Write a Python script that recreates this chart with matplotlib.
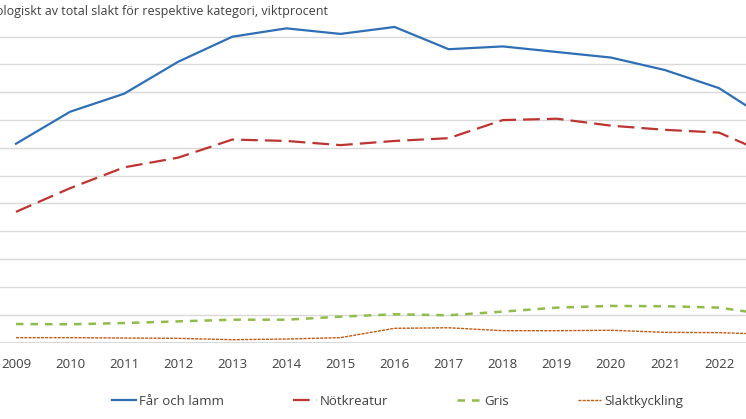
import matplotlib
matplotlib.use("Agg")
import matplotlib.pyplot as plt
from matplotlib.lines import Line2D

years = [2009, 2010, 2011, 2012, 2013, 2014, 2015, 2016, 2017, 2018, 2019, 2020, 2021, 2022, 2023]
far_och_lamm = [14.3, 16.6, 17.9, 20.2, 22.0, 22.6, 22.2, 22.7, 21.1, 21.3, 20.9, 20.5, 19.6, 18.3, 15.8]
notkreatur = [9.4, 11.1, 12.6, 13.3, 14.6, 14.5, 14.2, 14.5, 14.7, 16.0, 16.1, 15.6, 15.3, 15.1, 13.4]
gris = [1.33, 1.31, 1.40, 1.52, 1.64, 1.64, 1.86, 2.03, 1.96, 2.22, 2.51, 2.63, 2.61, 2.51, 1.95]
slaktkyckling = [0.35, 0.35, 0.32, 0.30, 0.20, 0.25, 0.35, 1.02, 1.06, 0.85, 0.85, 0.88, 0.73, 0.71, 0.58]
series_names = ["Får och lamm", "Nötkreatur", "Gris", "Slaktkyckling"]
title = "Andel ekologiskt av total slakt för respektive kategori, viktprocent"
yticks = [0, 2, 4, 6, 8, 10, 12, 14, 16, 18, 20, 22]

plt.rcParams['font.family'] = ['Open Sans', 'DejaVu Sans']

W, H = 746, 419
fig = plt.figure(figsize=(W / 100, H / 100), dpi=100)

bottom_px = 342.5
top_px = 8.9
ax = fig.add_axes([0, (H - bottom_px) / H, 1, (bottom_px - top_px) / H])
px_per_year = 54.08
x0 = 2009 - 16 / px_per_year
ax.set_xlim(x0, x0 + W / px_per_year)
ax.set_ylim(0, 24)

for s in ax.spines.values():
    s.set_visible(False)
ax.set_yticks(yticks)
ax.yaxis.grid(True, color='#D9D9D9', linewidth=1.0)
ax.set_axisbelow(True)
ax.tick_params(axis='y', left=False, labelleft=False)
ax.set_xticks(years[:-1])
ax.set_xticklabels([str(y) for y in years[:-1]], fontsize=9.5, color='#404040')
ax.tick_params(axis='x', length=0, pad=11)
ax.axhline(0, color='#D9D9D9', linewidth=1.4, zorder=1)

colors = ['#2E6FB7', '#BE3430', '#8FBC4A', '#C65A11']
ax.plot(years, far_och_lamm, color=colors[0], lw=1.6, solid_joinstyle='round')
ax.plot(years, notkreatur, color=colors[1], lw=1.6, dashes=(7.5, 3.2))
ax.plot(years, gris, color=colors[2], lw=1.8, dashes=(3.0, 2.8))
ax.plot(years, slaktkyckling, color=colors[3], lw=1.0, dashes=(2.2, 0.8))

fig.text(328 / W, 1 - 12 / H, title, ha='right', va='center', fontsize=9.0, color='#404040')

handles = [
    Line2D([], [], color=colors[0], lw=1.6),
    Line2D([], [], color=colors[1], lw=1.6, dashes=(7.5, 3.2)),
    Line2D([], [], color=colors[2], lw=1.8, dashes=(3.0, 2.8)),
    Line2D([], [], color=colors[3], lw=1.0, dashes=(2.2, 0.8)),
]
fig.legend(handles, series_names, loc='center', bbox_to_anchor=(398 / W, 1 - 401 / H),
           ncol=4, frameon=False, fontsize=9.5, handlelength=1.8, handletextpad=0.25,
           columnspacing=5.2, labelcolor='#404040')

fig.savefig('out.png', dpi=100)
